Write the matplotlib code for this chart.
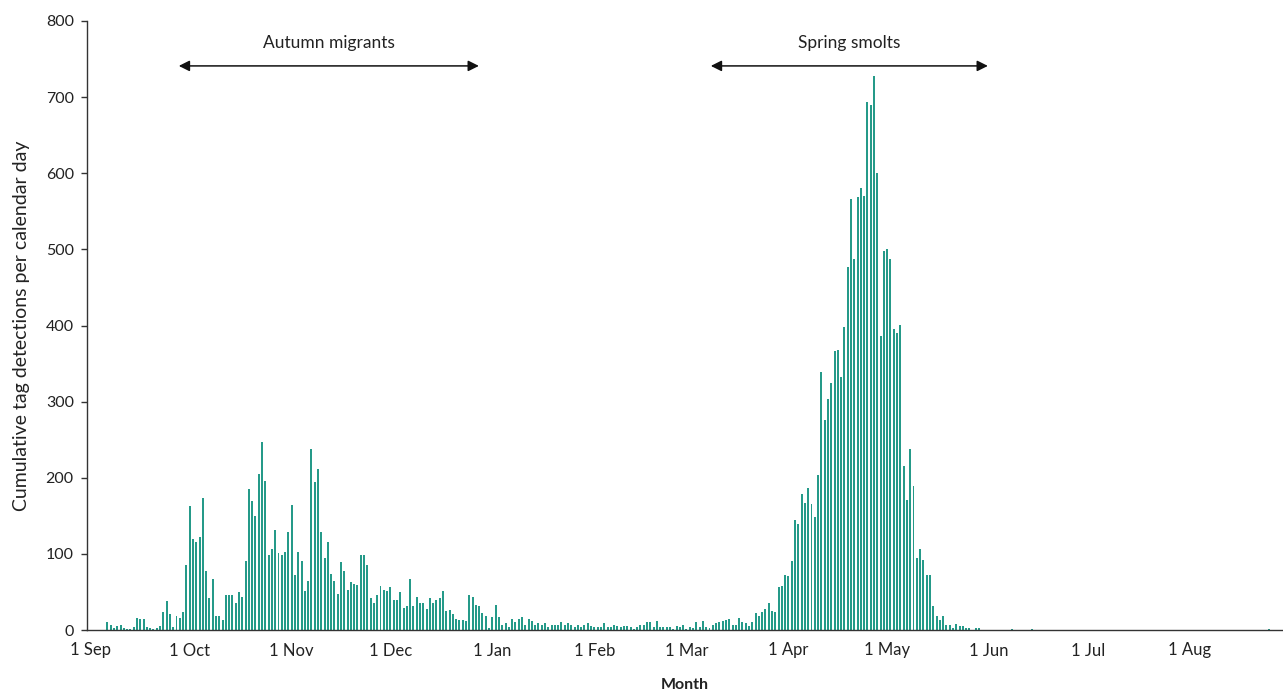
import matplotlib
matplotlib.use("Agg")
import matplotlib.pyplot as plt
import numpy as np

plt.rcParams['font.family'] = ['Lato', 'DejaVu Sans']

# Daily cumulative tag detections, 1 Sep .. 31 Aug
sep = [0, 0, 0, 0, 0, 10, 6, 3, 5, 6, 2, 1, 1, 4, 16, 15, 15, 4, 2, 1,
       3, 5, 23, 38, 21, 4, 18, 16, 23, 85]
oct_ = [163, 120, 116, 122, 174, 78, 42, 67, 19, 19, 13, 46, 46, 46, 36, 50,
        43, 91, 185, 170, 150, 205, 247, 196, 99, 106, 131, 101, 99, 103, 129]
nov = [164, 72, 103, 91, 51, 64, 238, 194, 212, 129, 95, 115, 73, 64, 47, 89,
       78, 53, 63, 60, 59, 99, 99, 85, 42, 36, 46, 58, 52, 51]
dec = [56, 39, 39, 50, 29, 31, 67, 31, 43, 36, 36, 28, 42, 36, 39, 42, 51, 25,
       26, 21, 14, 13, 13, 12, 46, 43, 33, 32, 22, 18, 2]
jan = [17, 33, 17, 7, 9, 4, 14, 11, 14, 17, 7, 14, 12, 7, 9, 7, 9, 4, 6, 7, 6,
       11, 7, 9, 6, 4, 6, 4, 7, 9, 5]
feb = [4, 4, 4, 9, 4, 4, 7, 5, 4, 5, 5, 4, 1, 4, 7, 7, 11, 11, 4, 12, 4, 4, 4,
       4, 1, 5, 4, 7]
mar = [1, 4, 2, 10, 4, 12, 4, 2, 7, 9, 10, 12, 13, 14, 7, 7, 16, 10, 9, 5, 10,
       22, 18, 23, 27, 35, 25, 24, 56, 58, 72]
apr = [71, 91, 144, 139, 179, 167, 187, 165, 148, 204, 339, 276, 304, 324, 366,
       368, 332, 398, 477, 566, 487, 569, 580, 570, 694, 690, 728, 600, 386, 498]
may = [500, 487, 395, 390, 401, 215, 171, 238, 189, 95, 107, 92, 72, 72, 32, 19,
       13, 19, 7, 7, 2, 8, 5, 5, 2, 3, 0.5, 2, 2, 0.5, 0.5]
jun = [0.5, 0, 0.5, 0, 0.5, 0, 0, 1, 0, 0.5, 0, 0, 0.5, 1, 0, 0, 0.5, 0, 0, 0,
       0.5, 0, 0, 0, 0, 0.5, 0, 0, 0, 0]
jul = [0, 0, 0.5, 0, 0, 0, 0, 0, 0, 0, 0.5, 0, 0, 0, 0, 0, 0, 0, 0, 0, 0, 0, 0,
       0, 0, 0, 0, 0, 0, 0, 0]
aug = [0, 0, 0, 0, 0, 0, 0, 0, 0, 0, 0, 0, 0, 0, 0, 0, 0, 0, 0, 0, 0, 0, 0, 0,
       1, 0, 0, 0, 0, 0, 0]

month_labels = ['1 Sep', '1 Oct', '1 Nov', '1 Dec', '1 Jan', '1 Feb', '1 Mar',
                '1 Apr', '1 May', '1 Jun', '1 Jul', '1 Aug']
y_ticks = [0, 100, 200, 300, 400, 500, 600, 700, 800]
annotations = ['Autumn migrants', 'Spring smolts']

months = [sep, oct_, nov, dec, jan, feb, mar, apr, may, jun, jul, aug]
values = np.concatenate([np.asarray(m, dtype=float) for m in months])
days = np.arange(len(values))
month_starts = np.concatenate([[0], np.cumsum([len(m) for m in months])[:-1]])

fig = plt.figure(figsize=(12.83, 6.90), dpi=100)
ax = fig.add_axes([87 / 1283, 1 - 630 / 690, 1 - 87 / 1283, (630 - 21) / 690])

ax.bar(days, values, width=0.6, color='#259a89', linewidth=0)

ax.set_xlim(-1.2, 362.3)
ax.set_ylim(0, 800)
ax.set_yticks(y_ticks)
ax.set_xticks(month_starts)
ax.set_xticklabels(month_labels)

for s in ['top', 'right']:
    ax.spines[s].set_visible(False)
for s in ['left', 'bottom']:
    ax.spines[s].set_color('#333333')
    ax.spines[s].set_linewidth(1.0)

ax.tick_params(axis='x', length=0, pad=9, labelsize=12, colors='#222222')
ax.tick_params(axis='y', length=4.5, width=1, direction='out', pad=5,
               labelsize=11.5, colors='#333333', labelcolor='#222222')

ax.set_ylabel('Cumulative tag detections per calendar day', fontsize=14,
              color='#222222', labelpad=11)
ax.set_xlabel('Month', fontsize=11.5, fontweight='bold', color='#222222',
              labelpad=14)

arrow_props = dict(arrowstyle='<|-|>', color='#111111', lw=1.1,
                   mutation_scale=16, shrinkA=0, shrinkB=0)
ax.annotate('', xy=(117.9, 741), xytext=(26.7, 741), arrowprops=arrow_props)
ax.annotate('', xy=(272.6, 741), xytext=(188.4, 741), arrowprops=arrow_props)
ax.text(72.3, 771, annotations[0], ha='center', va='center', fontsize=12.5,
        color='#222222')
ax.text(230.5, 771, annotations[1], ha='center', va='center', fontsize=12.5,
        color='#222222')

fig.savefig('out.png', dpi=100)
